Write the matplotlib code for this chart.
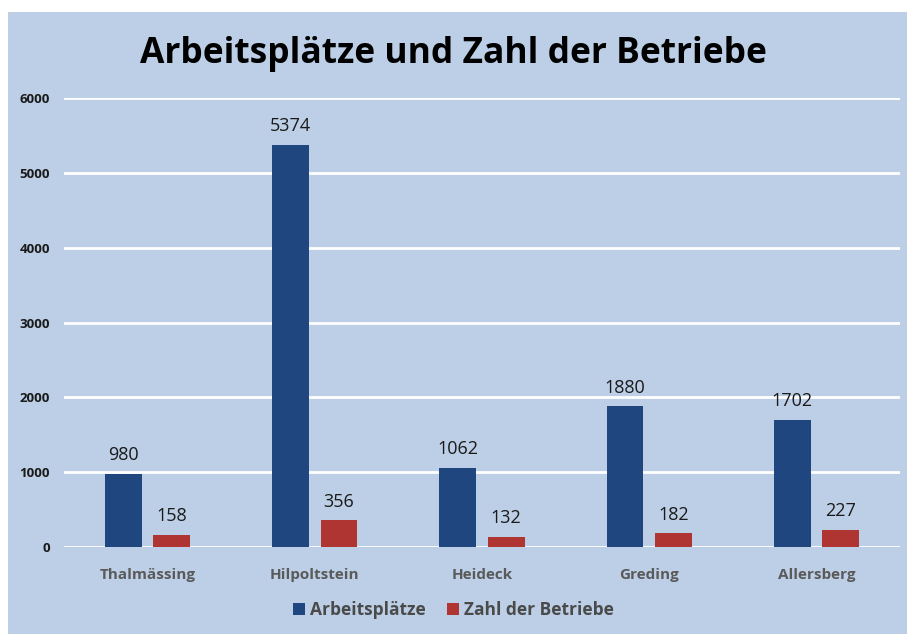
import matplotlib.pyplot as plt
from matplotlib.patches import Rectangle
import numpy as np

plt.rcParams['font.family'] = ['Open Sans', 'DejaVu Sans']

# data
orte = ['Thalmässing', 'Hilpoltstein', 'Heideck', 'Greding', 'Allersberg']
arbeitsplaetze = [980, 5374, 1062, 1880, 1702]
betriebe = [158, 356, 132, 182, 227]
yticks = [0, 1000, 2000, 3000, 4000, 5000, 6000]

blau = '#1f467f'
rot = '#ae3532'
hg = '#bccfe6'

W, H = 907, 634
fig = plt.figure(figsize=(W / 100, H / 100), dpi=100, facecolor='white')

# light blue chart panel (white margin top / left)
fig.patches.append(Rectangle((8 / W, 0), 1, (H - 12) / H, transform=fig.transFigure,
                             facecolor=hg, edgecolor='none', zorder=-10))

ax = fig.add_axes([64 / W, 1 - 547 / H, (900 - 64) / W, (547 - 98) / H])
ax.set_facecolor('none')

x = np.arange(len(orte))
bw = 0.22
off = 0.145
b1 = ax.bar(x - off, arbeitsplaetze, bw, color=blau, label='Arbeitsplätze', zorder=3)
b2 = ax.bar(x + off, betriebe, bw, color=rot, label='Zahl der Betriebe', zorder=3)

for bars in (b1, b2):
    for r in bars:
        ax.text(r.get_x() + r.get_width() / 2, r.get_height() + 130, str(int(r.get_height())),
                ha='center', va='bottom', fontsize=13, color='#1a1a1a')

ax.set_xlim(-0.5, len(orte) - 0.5)
ax.set_ylim(0, 6000)
ax.set_yticks(yticks)
ax.set_yticklabels([str(t) for t in yticks], fontsize=9.5, fontweight='bold', color='#1a1a1a')
ax.set_xticks(x)
ax.set_xticklabels(orte, fontsize=11, fontweight='bold', color='#5a5a5a')
ax.tick_params(length=0)
ax.tick_params(axis='y', pad=10)
ax.tick_params(axis='x', pad=15)
for s in ax.spines.values():
    s.set_visible(False)
ax.grid(axis='y', color='white', linewidth=2, zorder=1)

fig.text(0.5, 1 - 54 / H, 'Arbeitsplätze und Zahl der Betriebe', ha='center', va='center',
         fontsize=25.5, fontweight='bold', color='black')

fig.legend(handles=[b1, b2], loc='center', bbox_to_anchor=(0.5, 1 - 610 / H), ncol=2,
           frameon=False, handlelength=0.7, handleheight=0.7,
           handletextpad=0.3, columnspacing=1.2, labelcolor='#4a4a4a',
           prop={'weight': 'bold', 'size': 12.5})

fig.savefig('out.png', dpi=100, facecolor='white')
